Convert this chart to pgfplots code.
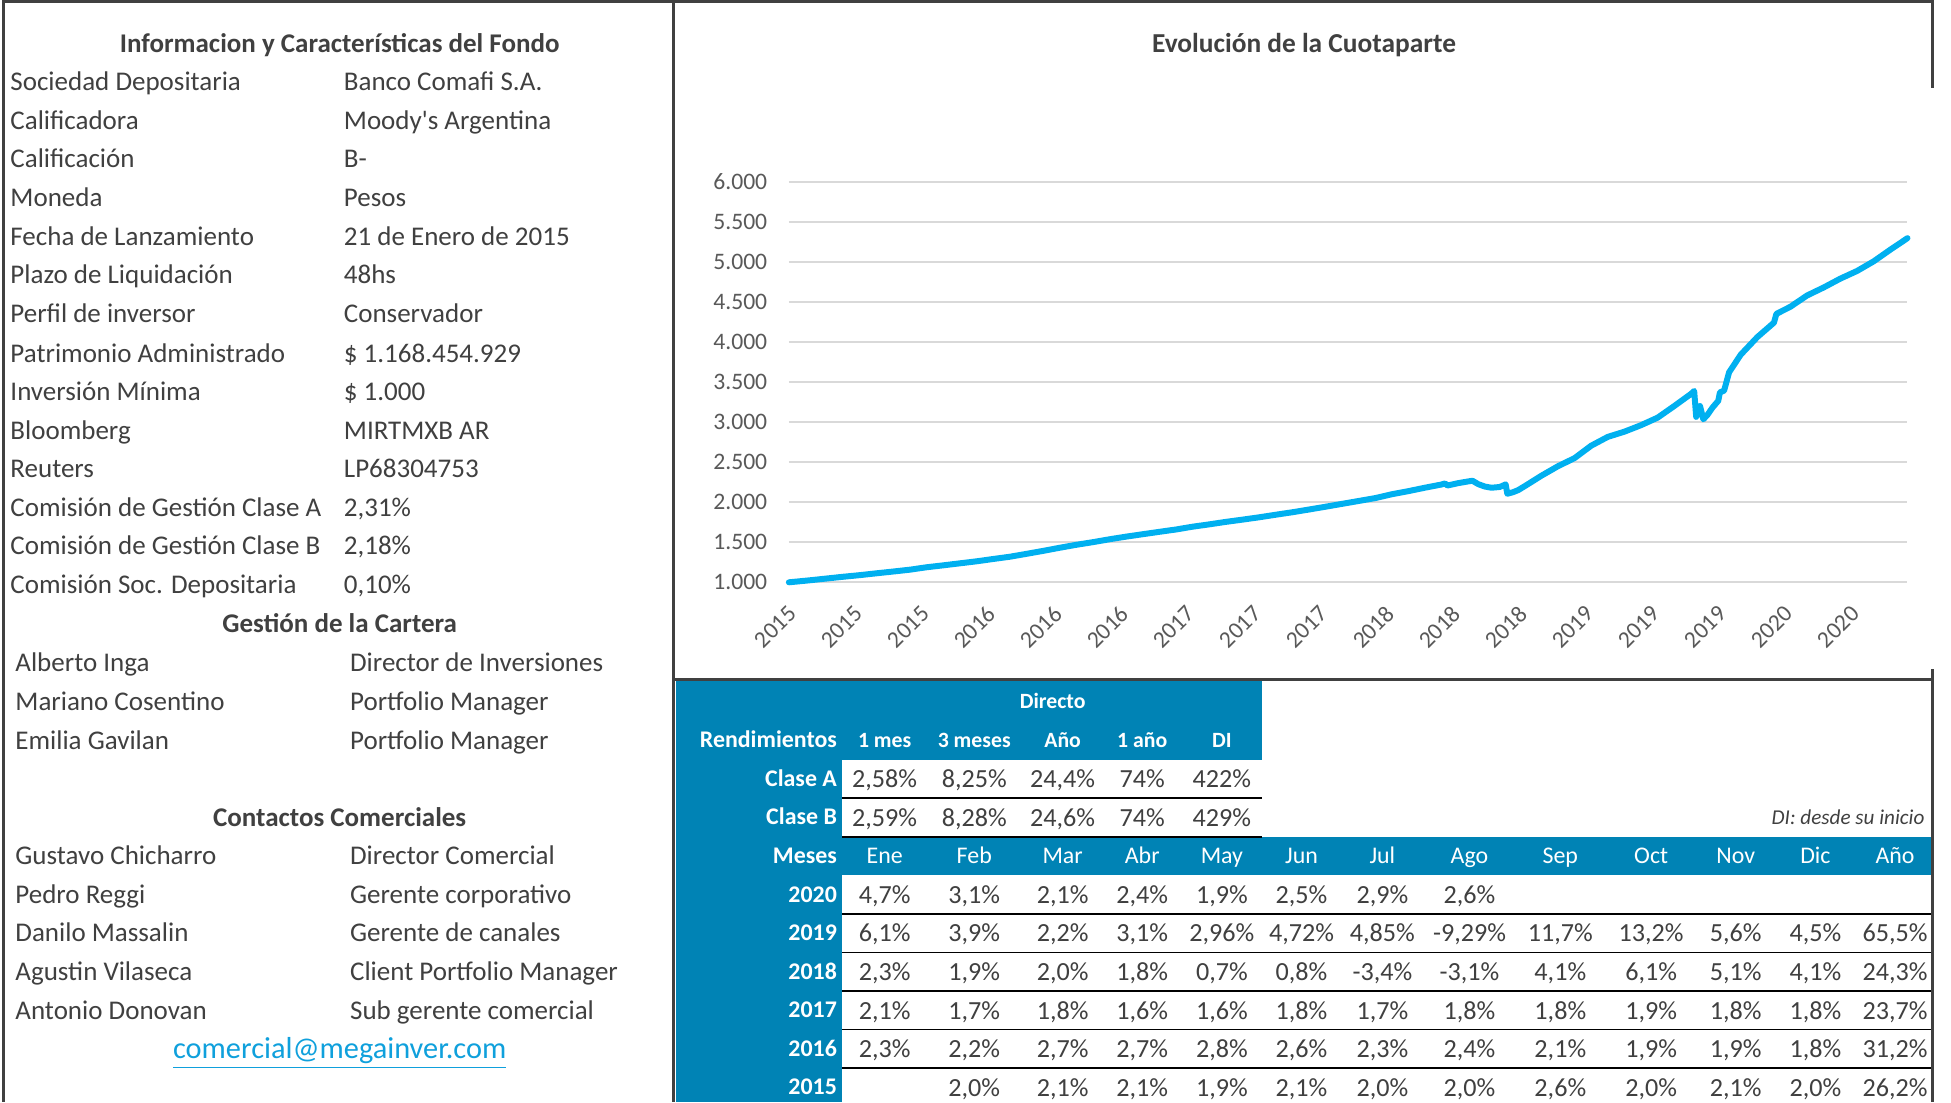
\documentclass[border=0pt]{standalone}
\usepackage{fontspec}
\setmainfont{Carlito}
\usepackage{pgfplots}
\pgfplotsset{compat=1.18}
\definecolor{txt}{HTML}{404040}
\definecolor{tickc}{HTML}{595959}
\definecolor{bord}{HTML}{404040}
\definecolor{tblue}{HTML}{0083B5}
\definecolor{lblue}{HTML}{00B0F0}
\definecolor{gridc}{HTML}{D9D9D9}
\definecolor{linkc}{HTML}{0FA0DC}
\newcommand\fl{\fontsize{10.85}{12}\selectfont}
\newcommand\fb{\fontsize{10.5}{12}\selectfont}
\newcommand\fm{\fontsize{9.6}{11}\selectfont}
\newcommand\fh{\fontsize{8.75}{10}\selectfont}
\newcommand\fs{\fontsize{8.5}{10}\selectfont}
\newcommand\TL[3]{\node[anchor=base west,inner sep=0pt,font=\fl,text=txt] at (#1,{#2+7}) {#3};}
\newcommand\TB[3]{\node[anchor=base,inner sep=0pt,font=\fl\bfseries,text=txt] at (#1,{#2+7}) {#3};}
\newcommand\WR[3]{\node[anchor=base east,inner sep=0pt,font=\fm\bfseries,text=white] at (#1,{#2+6}) {#3};}
\newcommand\WH[3]{\node[anchor=base,inner sep=0pt,font=\fh\bfseries,text=white] at (#1,{#2+5.5}) {#3};}
\newcommand\RowV[2]{\foreach \v [count=\i] in {#2} {\pgfmathsetmacro\cx{{711,783,854,918,982,1046,1111,1181,1254,1327,1395,1459,1523}[\i-1]}\node[anchor=base,inner sep=0pt,font=\fb,text=txt] at (\cx,{#1+7}) {\v};}}
\begin{document}
\begin{tikzpicture}
\useasboundingbox (0,0) rectangle (784pt,-443pt);
\fill[white] (0,0) rectangle (784pt,-443pt);
\begin{scope}[x=0.5pt,y=-0.5pt]
% table fills
\fill[tblue] (543,547.5) rectangle (1014,610.5);
\fill[tblue] (543,547.5) rectangle (677,886);
\fill[tblue] (543,672.5) rectangle (1553,703.5);
\draw[black,line width=0.6pt] (677,641.5) -- (1014,641.5);
\draw[black,line width=0.6pt] (677,672.5) -- (1014,672.5);
\foreach \yy in {734.5,765.5,796.5,827.5,858.5} {\draw[black,line width=0.6pt] (677,\yy) -- (1553,\yy);}
% borders
\draw[bord,line width=1.2pt] (2,1.5) -- (1553.5,1.5);
\draw[bord,line width=1.2pt] (3,0) -- (3,886);
\draw[bord,line width=1.2pt] (541,0) -- (541,886);
\draw[bord,line width=1.2pt] (1553,0) -- (1553,71);
\draw[bord,line width=1.2pt] (1553,538) -- (1553,886);
\draw[bord,line width=1.2pt] (541,546) -- (1553,546);
% left panel
\TB{273}{35}{Informacion y Características del Fondo}
\TL{8}{66}{Sociedad Depositaria}\TL{276}{66}{Banco Comafi S.A.}
\TL{8}{97}{Calificadora}\TL{276}{97}{Moody\textquotesingle s Argentina}
\TL{8}{128}{Calificación}\TL{276}{128}{B-}
\TL{8}{159}{Moneda}\TL{276}{159}{Pesos}
\TL{8}{190}{Fecha de Lanzamiento}\TL{276}{190}{21 de Enero de 2015}
\TL{8}{221}{Plazo de Liquidación}\TL{276}{221}{48hs}
\TL{8}{252}{Perfil de inversor}\TL{276}{252}{Conservador}
\TL{8}{284}{Patrimonio Administrado}\TL{276}{284}{\$ 1.168.454.929}
\TL{8}{315}{Inversión Mínima}\TL{276}{315}{\$ 1.000}
\TL{8}{346}{Bloomberg}\TL{276}{346}{MIRTMXB AR}
\TL{8}{377}{Reuters}\TL{276}{377}{LP68304753}
\TL{8}{408}{Comisión de Gestión Clase A}\TL{276}{408}{2,31\%}
\TL{8}{439}{Comisión de Gestión Clase B}\TL{276}{439}{2,18\%}
\TL{8}{470}{Comisión Soc. Depositaria}\TL{276}{470}{0,10\%}
\TB{273}{501}{Gestión de la Cartera}
\TL{12}{533}{Alberto Inga}\TL{281}{533}{Director de Inversiones}
\TL{12}{564}{Mariano Cosentino}\TL{281}{564}{Portfolio Manager}
\TL{12}{595}{Emilia Gavilan}\TL{281}{595}{Portfolio Manager}
\TB{273}{657}{Contactos Comerciales}
\TL{12}{688}{Gustavo Chicharro}\TL{281}{688}{Director Comercial}
\TL{12}{719}{Pedro Reggi}\TL{281}{719}{Gerente corporativo}
\TL{12}{750}{Danilo Massalin}\TL{281}{750}{Gerente de canales}
\TL{12}{781}{Agustin Vilaseca}\TL{281}{781}{Client Portfolio Manager}
\TL{12}{812}{Antonio Donovan}\TL{281}{812}{Sub gerente comercial}
\node[anchor=base,inner sep=0pt,font=\fontsize{12.2}{14}\selectfont,text=linkc] at (273,851) {\underline{comercial@megainver.com}};
% chart title
\node[anchor=base,inner sep=0pt,font=\fontsize{11}{13}\selectfont\bfseries,text=txt] at (1048,42) {Evolución de la Cuotaparte};
% top table
\WH{846}{564}{Directo}
\WR{673}{595}{Rendimientos}
\WH{711}{595}{1 mes}\WH{783}{595}{3 meses}\WH{854}{595}{Año}\WH{918}{595}{1 año}\WH{982}{595}{DI}
\WR{673}{626}{Clase A}\WR{673}{657}{Clase B}
\RowV{626}{{2,58\%},{8,25\%},{24,4\%},{74\%},{422\%}}
\RowV{657}{{2,59\%},{8,28\%},{24,6\%},{74\%},{429\%}}
\node[anchor=base east,inner sep=0pt,font=\fs\itshape,text=txt] at (1547,{657+5.5}) {DI: desde su inicio};
% monthly table
\WR{673}{688}{Meses}
\foreach \m [count=\i] in {Ene,Feb,Mar,Abr,May,Jun,Jul,Ago,Sep,Oct,Nov,Dic,Año} {\pgfmathsetmacro\cx{{711,783,854,918,982,1046,1111,1181,1254,1327,1395,1459,1523}[\i-1]}\node[anchor=base,inner sep=0pt,font=\fm,text=white] at (\cx,{688+6}) {\m};}
\WR{673}{719}{2020}\WR{673}{750}{2019}\WR{673}{781}{2018}\WR{673}{812}{2017}\WR{673}{843}{2016}\WR{673}{874}{2015}
\RowV{719}{{4,7\%},{3,1\%},{2,1\%},{2,4\%},{1,9\%},{2,5\%},{2,9\%},{2,6\%}}
\RowV{750}{{6,1\%},{3,9\%},{2,2\%},{3,1\%},{2,96\%},{4,72\%},{4,85\%},{-9,29\%},{11,7\%},{13,2\%},{5,6\%},{4,5\%},{65,5\%}}
\RowV{781}{{2,3\%},{1,9\%},{2,0\%},{1,8\%},{0,7\%},{0,8\%},{-3,4\%},{-3,1\%},{4,1\%},{6,1\%},{5,1\%},{4,1\%},{24,3\%}}
\RowV{812}{{2,1\%},{1,7\%},{1,8\%},{1,6\%},{1,6\%},{1,8\%},{1,7\%},{1,8\%},{1,8\%},{1,9\%},{1,8\%},{1,8\%},{23,7\%}}
\RowV{843}{{2,3\%},{2,2\%},{2,7\%},{2,7\%},{2,8\%},{2,6\%},{2,3\%},{2,4\%},{2,1\%},{1,9\%},{1,9\%},{1,8\%},{31,2\%}}
\RowV{874}{{},{2,0\%},{2,1\%},{2,1\%},{1,9\%},{2,1\%},{2,0\%},{2,0\%},{2,6\%},{2,0\%},{2,1\%},{2,0\%},{26,2\%}}
\end{scope}
\begin{axis}[
  at={(317pt,-234pt)}, anchor=south west,
  scale only axis, width=449.5pt, height=161pt,
  xmin=0, xmax=67.34, ymin=1000, ymax=6000,
  axis line style={draw=none},
  tick style={draw=none}, major tick length=0pt, tick align=inside,
  ymajorgrids, grid style={color=gridc, line width=0.8pt},
  ytick={1000,1500,...,6000},
  yticklabels={1.000,1.500,2.000,2.500,3.000,3.500,4.000,4.500,5.000,5.500,6.000},
  xtick={0,4,...,64},
  xticklabels={2015,2015,2015,2016,2016,2016,2017,2017,2017,2018,2018,2018,2019,2019,2019,2020,2020},
  ticklabel style={font=\fontsize{9.5}{11}\selectfont, text=tickc},
  yticklabel style={anchor=east, inner sep=0pt, xshift=-8.5pt},
  xticklabel style={anchor=east, inner sep=0pt, xshift=1.5pt, yshift=-11pt, rotate=45},
  /pgf/number format/assume math mode=true,
  clip=false,
]
\addplot[lblue, line width=2.4pt, line join=round, line cap=round] table {
0 1000
0.3 1006
1.3 1026
2.3 1048
3.3 1070
4.3 1090
5.3 1113
6.3 1135
7.3 1158
8.3 1188
9.3 1212
10.3 1237
11.3 1262
12.3 1291
13.3 1319
14.3 1355
15.3 1392
16.3 1431
17.3 1468
18.3 1501
19.3 1537
20.3 1570
21.3 1600
22.3 1630
23.3 1659
24.3 1694
25.3 1723
26.3 1754
27.3 1782
28.3 1811
29.3 1843
30.3 1874
31.3 1908
32.3 1943
33.3 1979
34.3 2015
35.3 2051
36.3 2099
37.3 2138
38.3 2181
39.3 2221
39.5 2234
39.65 2208
40.3 2238
41.15 2268
41.5 2225
41.9 2195
42.3 2180
42.8 2190
43.15 2222
43.25 2105
43.6 2125
43.9 2150
44.3 2200
45.3 2330
46.3 2449
47.3 2550
48.3 2705
49.3 2815
50.3 2880
51.3 2961
52.3 3055
53.3 3200
54.3 3350
54.5 3388
54.62 3065
54.85 3200
55.05 3034
55.3 3090
55.6 3180
55.95 3265
56.05 3370
56.3 3392
56.6 3620
57.3 3840
58.3 4060
59.3 4240
59.45 4350
60.3 4440
61.3 4580
62.3 4680
63.3 4790
64.3 4885
65.3 5005
66.3 5150
67.34 5295
};
\end{axis}
\end{tikzpicture}
\end{document}
